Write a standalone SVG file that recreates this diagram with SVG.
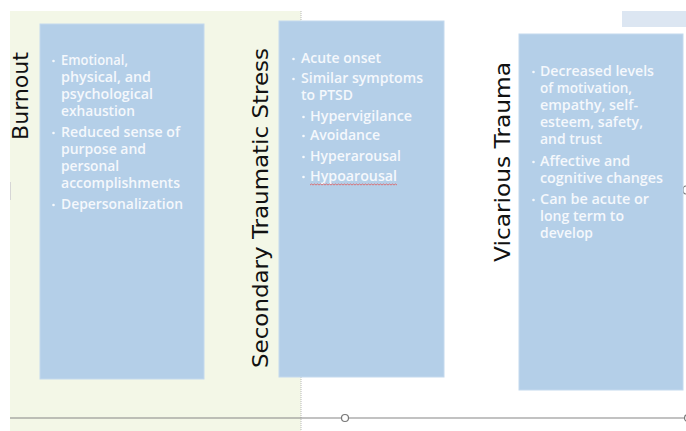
<svg xmlns="http://www.w3.org/2000/svg" width="686" height="431" viewBox="0 0 686 431">
<style>
.box{fill:#b4cfe8;stroke:#c4d9ee;stroke-width:1}
.title{font-family:"DejaVu Sans","Liberation Sans",sans-serif;font-size:22px;fill:#111}
.b{font-family:"Open Sans","DejaVu Sans",sans-serif;font-size:13.5px;font-weight:600;fill:#f5f8fc}
.dot{fill:#f5f8fc}
</style>
<rect x="0" y="0" width="686" height="431" fill="#ffffff"/>
<rect x="10" y="11" width="291" height="420" fill="#f3f7e7"/>
<line x1="301" y1="11" x2="301" y2="431" stroke="#b8b8b8" stroke-width="1" stroke-dasharray="1,1"/>
<rect x="622" y="11" width="64" height="16" fill="#dce6f2"/>
<line x1="10.5" y1="182" x2="10.5" y2="200" stroke="#d6d6d6" stroke-width="1"/>
<path d="M686,186 A3,4 0 0 0 686,194" fill="none" stroke="#777" stroke-width="1.2"/>

<g id="burnout">
<rect class="box" x="40" y="24" width="164" height="355"/>
<text class="title" transform="translate(28,140) rotate(-90)" textLength="88" lengthAdjust="spacingAndGlyphs">Burnout</text>
<circle class="dot" cx="53.5" cy="61" r="1.3"/>
<text class="b" x="61" y="65" textLength="67" lengthAdjust="spacingAndGlyphs">Emotional,</text>
<text class="b" x="61" y="82" textLength="90" lengthAdjust="spacingAndGlyphs">physical, and</text>
<text class="b" x="61" y="99" textLength="92" lengthAdjust="spacingAndGlyphs">psychological</text>
<text class="b" x="61" y="116" textLength="74" lengthAdjust="spacingAndGlyphs">exhaustion</text>
<circle class="dot" cx="53.5" cy="133" r="1.3"/>
<text class="b" x="61" y="137" textLength="119" lengthAdjust="spacingAndGlyphs">Reduced sense of</text>
<text class="b" x="61" y="154" textLength="85" lengthAdjust="spacingAndGlyphs">purpose and</text>
<text class="b" x="61" y="171" textLength="58" lengthAdjust="spacingAndGlyphs">personal</text>
<text class="b" x="61" y="188" textLength="119" lengthAdjust="spacingAndGlyphs">accomplishments</text>
<circle class="dot" cx="53.5" cy="205" r="1.3"/>
<text class="b" x="61" y="209" textLength="122" lengthAdjust="spacingAndGlyphs">Depersonalization</text>
</g>

<g id="secondary">
<rect class="box" x="279" y="21" width="165" height="356"/>
<text class="title" transform="translate(268,368) rotate(-90)" textLength="320" lengthAdjust="spacingAndGlyphs">Secondary Traumatic Stress</text>
<circle class="dot" cx="293.5" cy="59" r="1.3"/>
<text class="b" x="301" y="63" textLength="80" lengthAdjust="spacingAndGlyphs">Acute onset</text>
<circle class="dot" cx="293.5" cy="79" r="1.3"/>
<text class="b" x="301" y="83" textLength="122" lengthAdjust="spacingAndGlyphs">Similar symptoms</text>
<text class="b" x="301" y="100" textLength="52" lengthAdjust="spacingAndGlyphs">to PTSD</text>
<circle class="dot" cx="303.5" cy="117" r="1.3"/>
<text class="b" x="310" y="121" textLength="102" lengthAdjust="spacingAndGlyphs">Hypervigilance</text>
<circle class="dot" cx="303.5" cy="136" r="1.3"/>
<text class="b" x="310" y="140" textLength="70" lengthAdjust="spacingAndGlyphs">Avoidance</text>
<circle class="dot" cx="303.5" cy="157" r="1.3"/>
<text class="b" x="310" y="161" textLength="91" lengthAdjust="spacingAndGlyphs">Hyperarousal</text>
<circle class="dot" cx="303.5" cy="177" r="1.3"/>
<text class="b" x="310" y="181" textLength="87" lengthAdjust="spacingAndGlyphs">Hypoarousal</text>
<path d="M310,185 l1.5,-1 l1.5,1 l1.5,-1 l1.5,1 l1.5,-1 l1.5,1 l1.5,-1 l1.5,1 l1.5,-1 l1.5,1 l1.5,-1 l1.5,1 l1.5,-1 l1.5,1 l1.5,-1 l1.5,1 l1.5,-1 l1.5,1 l1.5,-1 l1.5,1 l1.5,-1 l1.5,1 l1.5,-1 l1.5,1 l1.5,-1 l1.5,1 l1.5,-1 l1.5,1 l1.5,-1 l1.5,1 l1.5,-1 l1.5,1 l1.5,-1 l1.5,1 l1.5,-1 l1.5,1 l1.5,-1 l1.5,1 l1.5,-1 l1.5,1 l1.5,-1 l1.5,1 l1.5,-1 l1.5,1 l1.5,-1 l1.5,1 l1.5,-1 l1.5,1 l1.5,-1 l1.5,1 l1.5,-1 l1.5,1 l1.5,-1 l1.5,1 l1.5,-1 l1.5,1 l1.5,-1 l1.5,1" fill="none" stroke="#e05a5a" stroke-width="0.8"/>
</g>

<g id="vicarious">
<rect class="box" x="519" y="34" width="164" height="356"/>
<text class="title" transform="translate(510,262) rotate(-90)" textLength="200" lengthAdjust="spacingAndGlyphs">Vicarious Trauma</text>
<circle class="dot" cx="533.5" cy="72" r="1.3"/>
<text class="b" x="540" y="76" textLength="114" lengthAdjust="spacingAndGlyphs">Decreased levels</text>
<text class="b" x="540" y="93" textLength="92" lengthAdjust="spacingAndGlyphs">of motivation,</text>
<text class="b" x="540" y="110" textLength="98" lengthAdjust="spacingAndGlyphs">empathy, self-</text>
<text class="b" x="540" y="127" textLength="103" lengthAdjust="spacingAndGlyphs">esteem, safety,</text>
<text class="b" x="540" y="144" textLength="62" lengthAdjust="spacingAndGlyphs">and trust</text>
<circle class="dot" cx="533.5" cy="162" r="1.3"/>
<text class="b" x="540" y="166" textLength="90" lengthAdjust="spacingAndGlyphs">Affective and</text>
<text class="b" x="540" y="183" textLength="123" lengthAdjust="spacingAndGlyphs">cognitive changes</text>
<circle class="dot" cx="533.5" cy="200" r="1.3"/>
<text class="b" x="540" y="204" textLength="109" lengthAdjust="spacingAndGlyphs">Can be acute or</text>
<text class="b" x="540" y="221" textLength="84" lengthAdjust="spacingAndGlyphs">long term to</text>
<text class="b" x="540" y="238" textLength="53" lengthAdjust="spacingAndGlyphs">develop</text>
</g>

<g id="connectors">
<line x1="10" y1="418" x2="686" y2="418" stroke="#858585" stroke-width="1.2"/>
<circle cx="345" cy="418" r="3.5" fill="#ffffff" stroke="#777" stroke-width="1.2"/>
<circle cx="688" cy="418" r="3.5" fill="#ffffff" stroke="#777" stroke-width="1.2"/>
</g>
</svg>
